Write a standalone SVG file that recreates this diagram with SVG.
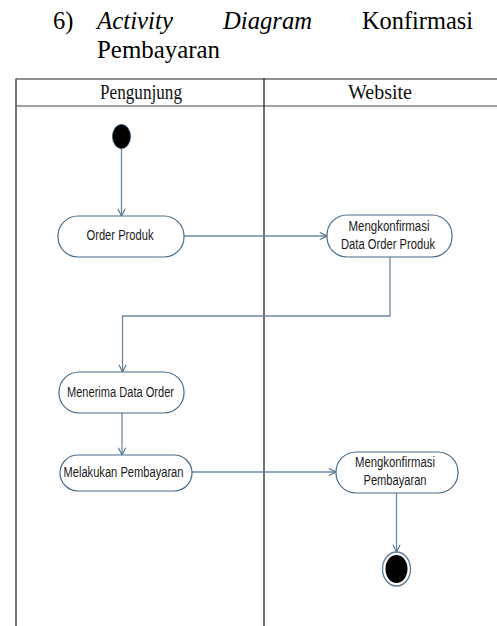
<svg xmlns="http://www.w3.org/2000/svg" width="497" height="626" viewBox="0 0 497 626">
  <style>
    .title { font-family: "Liberation Serif", "Times New Roman", serif; font-size: 24.5px; fill: #000; }
    .lane { font-family: "Liberation Serif", "Times New Roman", serif; font-size: 22px; fill: #111; text-anchor: middle; }
    .act rect { fill: #fff; stroke: #4a6a86; stroke-width: 1.2; }
    .act text { font-family: "Liberation Sans", Arial, sans-serif; font-size: 14px; fill: #1a1a1a; text-anchor: middle; }
    .flow { fill: none; stroke: #6d889e; stroke-width: 1.3; }
  </style>
  <defs>
    <marker id="open" viewBox="0 0 10 10" refX="9" refY="5" markerWidth="9" markerHeight="9" markerUnits="userSpaceOnUse" orient="auto">
      <path d="M1,1 L9,5 L1,9" fill="none" stroke="#5a7690" stroke-width="1.3"/>
    </marker>
  </defs>
  <rect width="497" height="626" fill="#fff"/>

  <!-- heading -->
  <g id="heading">
    <text class="title" x="53" y="29">6)</text>
    <text class="title" x="97" y="29" font-style="italic" textLength="76" lengthAdjust="spacingAndGlyphs">Activity</text>
    <text class="title" x="223" y="29" font-style="italic" textLength="89" lengthAdjust="spacingAndGlyphs">Diagram</text>
    <text class="title" x="362" y="29" textLength="111" lengthAdjust="spacingAndGlyphs">Konfirmasi</text>
    <text class="title" x="97" y="58" textLength="123" lengthAdjust="spacingAndGlyphs">Pembayaran</text>
  </g>

  <!-- swimlanes -->
  <g id="swimlanes">
    <line x1="16" y1="79" x2="497" y2="79" stroke="#222" stroke-width="1.2"/>
    <line x1="16" y1="106" x2="497" y2="106" stroke="#444" stroke-width="1.2"/>
    <line x1="16" y1="78.5" x2="16" y2="626" stroke="#666" stroke-width="1.8"/>
    <line x1="264" y1="78.5" x2="264" y2="626" stroke="#111" stroke-width="1.2"/>
    <text class="lane" x="141" y="99" textLength="82" lengthAdjust="spacingAndGlyphs">Pengunjung</text>
    <text class="lane" x="380" y="99" textLength="64" lengthAdjust="spacingAndGlyphs">Website</text>
  </g>

  <!-- connectors -->
  <g id="connectors">
    <path class="flow" d="M121.5,148 L121.5,216" marker-end="url(#open)"/>
    <path class="flow" d="M184,236 L327,236" marker-end="url(#open)"/>
    <path class="flow" d="M390,257 L390,316 L122.5,316 L122.5,372" marker-end="url(#open)"/>
    <path class="flow" d="M122,413 L122,455" marker-end="url(#open)"/>
    <path class="flow" d="M192,472 L336,472" marker-end="url(#open)"/>
    <path class="flow" d="M396.5,493 L396.5,552" marker-end="url(#open)"/>
  </g>

  <!-- nodes -->
  <g id="start">
    <ellipse cx="121.5" cy="136.5" rx="9" ry="12" fill="#000" stroke="#2c4a64" stroke-width="0.8"/>
  </g>
  <g id="order-produk" class="act">
    <rect x="58" y="216" width="126" height="41" rx="20" ry="20"/>
    <text x="120" y="240" textLength="67" lengthAdjust="spacingAndGlyphs">Order Produk</text>
  </g>
  <g id="konfirmasi-order" class="act">
    <rect x="327" y="215" width="125" height="42" rx="20" ry="20"/>
    <text x="389" y="231" textLength="81" lengthAdjust="spacingAndGlyphs">Mengkonfirmasi</text>
    <text x="388" y="248.5" textLength="94" lengthAdjust="spacingAndGlyphs">Data Order Produk</text>
  </g>
  <g id="menerima-data" class="act">
    <rect x="59" y="372" width="125" height="41" rx="20" ry="20"/>
    <text x="120.5" y="397" textLength="107" lengthAdjust="spacingAndGlyphs">Menerima Data Order</text>
  </g>
  <g id="melakukan-pembayaran" class="act">
    <rect x="60" y="455" width="132" height="36" rx="18" ry="18"/>
    <text x="123.5" y="477" textLength="120" lengthAdjust="spacingAndGlyphs">Melakukan Pembayaran</text>
  </g>
  <g id="konfirmasi-pembayaran" class="act">
    <rect x="336" y="452" width="122" height="41" rx="20" ry="20"/>
    <text x="395" y="467" textLength="80" lengthAdjust="spacingAndGlyphs">Mengkonfirmasi</text>
    <text x="395" y="484.5" textLength="63" lengthAdjust="spacingAndGlyphs">Pembayaran</text>
  </g>
  <g id="end">
    <ellipse cx="396.5" cy="569" rx="14" ry="17" fill="#fff" stroke="#5f7b93" stroke-width="1.3"/>
    <ellipse cx="396.5" cy="569" rx="11" ry="14" fill="#000"/>
  </g>
</svg>
